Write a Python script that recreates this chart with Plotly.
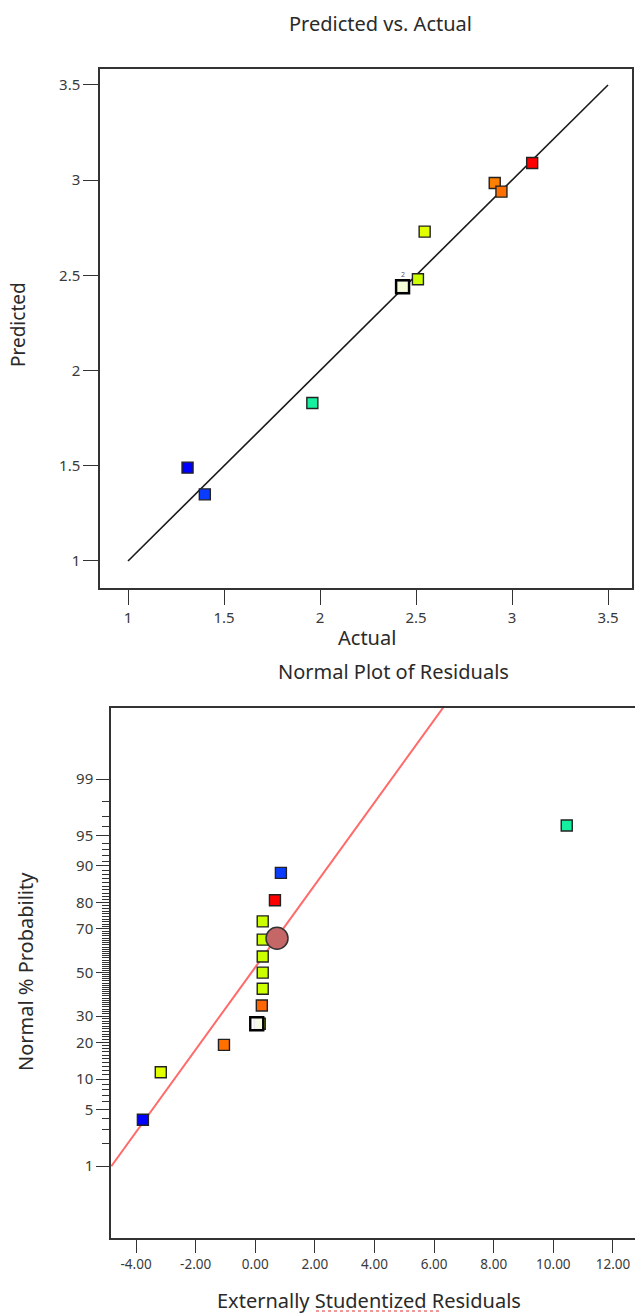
import plotly.graph_objects as go
from statistics import NormalDist

W, H = 635, 1313
nd = NormalDist()


def zval(p):
    return nd.inv_cdf(p / 100.0)


# ---------------- data: Predicted vs. Actual ----------------
actual = [1.31, 1.40, 1.96, 2.43, 2.51, 2.545, 2.91, 2.945, 3.105]
predicted = [1.49, 1.35, 1.83, 2.44, 2.48, 2.73, 2.985, 2.94, 3.09]
top_colors = ["#0000ff", "#0a3cff", "#14f0a0", "#b8f000", "#ccff00", "#e2ff00",
              "#ff8000", "#ff7000", "#ff0000"]
sel_actual = [2.43]
sel_predicted = [2.44]
ref_line = [1.0, 3.5]

# ---------------- data: Normal Plot of Residuals ----------------
resid = [-3.77, -3.17, -1.05, 0.15, 0.22, 0.25, 0.25, 0.25, 0.25, 0.25, 0.66, 0.86, 10.45]
prob = [3.85, 11.54, 19.23, 26.92, 34.62, 42.31, 50.0, 57.69, 65.38, 73.08, 80.77, 88.46, 96.15]
bot_colors = ["#0000ff", "#e2ff00", "#ff7000", "#9acd00", "#ff6600", "#ccff00", "#ccff00",
              "#ccff00", "#ccff00", "#ccff00", "#ff0000", "#0a3cff", "#14f0a0"]
sel_resid = [0.05]
sel_prob = [26.92]
center_resid = [0.73]
center_prob = [66.0]
line_intercept = -0.13   # residual at 50 %
line_slope = 2.02        # residual per normal score
line_prob = [1.0, 99.95]
prob_ticks = [1, 5, 10, 20, 30, 50, 70, 80, 90, 95, 99]
prob_minor = [p for p in range(2, 99) if p not in prob_ticks]
x2_ticks = [-4, -2, 0, 2, 4, 6, 8, 10, 12]

FONT = "Noto Sans"
TXT = "#3a3a3a"


def px(x):
    return x / W


def py(y):
    return 1 - y / H


fig = go.Figure()

# top plot
fig.add_trace(go.Scatter(x=ref_line, y=ref_line, mode="lines",
                         line=dict(color="#1a1a1a", width=1.6),
                         xaxis="x", yaxis="y", showlegend=False, hoverinfo="skip"))
fig.add_trace(go.Scatter(x=actual, y=predicted, mode="markers",
                         marker=dict(symbol="square", size=11, color=top_colors,
                                     line=dict(color="#222", width=1.4)),
                         xaxis="x", yaxis="y", showlegend=False))
fig.add_trace(go.Scatter(x=sel_actual, y=sel_predicted, mode="markers",
                         marker=dict(symbol="square", size=13, color="rgba(255,255,255,0.85)",
                                     line=dict(color="#000", width=2.4)),
                         xaxis="x", yaxis="y", showlegend=False))

# bottom plot
lz = [zval(p) for p in line_prob]
fig.add_trace(go.Scatter(x=[line_intercept + line_slope * z for z in lz], y=lz, mode="lines",
                         line=dict(color="#ff6a6a", width=2),
                         xaxis="x2", yaxis="y2", showlegend=False, hoverinfo="skip"))
fig.add_trace(go.Scatter(x=resid, y=[zval(p) for p in prob], mode="markers",
                         marker=dict(symbol="square", size=11, color=bot_colors,
                                     line=dict(color="#222", width=1.4)),
                         xaxis="x2", yaxis="y2", showlegend=False))
fig.add_trace(go.Scatter(x=sel_resid, y=[zval(p) for p in sel_prob], mode="markers",
                         marker=dict(symbol="square", size=13, color="rgba(255,255,255,0.9)",
                                     line=dict(color="#000", width=2.4)),
                         xaxis="x2", yaxis="y2", showlegend=False))
fig.add_trace(go.Scatter(x=center_resid, y=[zval(p) for p in center_prob], mode="markers",
                         marker=dict(symbol="circle", size=22, color="#c56767",
                                     line=dict(color="#333", width=1.5)),
                         xaxis="x2", yaxis="y2", showlegend=False))

axis_common = dict(showline=True, linecolor="#333", linewidth=1.5, ticks="outside",
                   tickcolor="#333", tickwidth=1.3, showgrid=False, zeroline=False,
                   tickfont=dict(family=FONT, size=15, color=TXT))

fig.update_layout(
    width=W, height=H, margin=dict(l=0, r=0, t=0, b=0),
    paper_bgcolor="white", plot_bgcolor="white",
    xaxis=dict(domain=[px(100), px(632)], anchor="y", range=[0.854, 3.625],
               tickvals=[1, 1.5, 2, 2.5, 3, 3.5], ticktext=["1", "1.5", "2", "2.5", "3", "3.5"],
               ticklen=15, mirror=True, **axis_common),
    yaxis=dict(domain=[py(588), py(69)], anchor="x", range=[0.858, 3.584],
               tickvals=[1, 1.5, 2, 2.5, 3, 3.5], ticktext=["1", "1.5", "2", "2.5", "3", "3.5"],
               ticklen=15, mirror=True, **axis_common),
    xaxis2=dict(domain=[px(111), 1.0], anchor="y2", range=[-4.84, 12.74],
                tickvals=x2_ticks, ticktext=[f"{v:.2f}" for v in x2_ticks],
                ticklen=13, mirror=True,
                **{**axis_common, "tickfont": dict(family=FONT, size=13.5, color=TXT)}),
    yaxis2=dict(domain=[py(1238), py(708)], anchor="x2", range=[-3.19, 3.18],
                tickvals=[zval(p) for p in prob_ticks], ticktext=[str(p) for p in prob_ticks],
                ticklen=13, mirror=False,
                minor=dict(tickmode="array", tickvals=[zval(p) for p in prob_minor],
                           ticklen=7, tickcolor="#333", tickwidth=1, ticks="outside",
                           showgrid=False),
                **axis_common),
)

ann = [
    dict(text="Predicted vs. Actual", x=px(380), y=py(24), size=20, angle=0),
    dict(text="Actual", x=px(367), y=py(637), size=20, angle=0),
    dict(text="Predicted", x=px(18), y=py(325), size=19, angle=-90),
    dict(text="Normal Plot of Residuals", x=px(393), y=py(671), size=20, angle=0),
    dict(text="Normal % Probability", x=px(25), y=py(972), size=20, angle=-90),
    dict(text="Externally Studentized Residuals", x=px(369), y=py(1300), size=20, angle=0),
]
for a in ann:
    fig.add_annotation(text=a["text"], x=a["x"], y=a["y"], xref="paper", yref="paper",
                       showarrow=False, textangle=a["angle"], xanchor="center", yanchor="middle",
                       font=dict(family=FONT, size=a["size"], color="#2a2a2a"))

# small "2" label over the duplicated point
fig.add_annotation(text="2", x=sel_actual[0], y=sel_predicted[0], xref="x", yref="y",
                   showarrow=False, yshift=12, font=dict(family=FONT, size=7, color="#555"))

# spell-check squiggle under "Studentized"
fig.add_shape(type="line", xref="paper", yref="paper", x0=px(316), x1=px(440),
              y0=py(1311), y1=py(1311), line=dict(color="#e03030", width=1, dash="dot"))

fig.write_html("out.html")
